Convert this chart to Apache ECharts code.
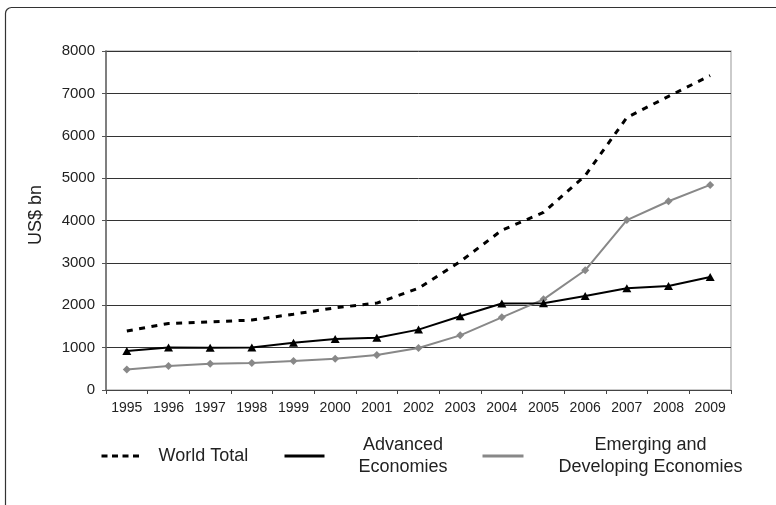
<!DOCTYPE html>
<html>
<head>
    <meta charset="UTF-8">
    <title>Exports</title>
    <script src="https://cdn.jsdelivr.net/npm/echarts@6/dist/echarts.min.js"></script>
    <style>
        html, body { margin: 0; padding: 0; background: #fff; }
        #chart { width: 776px; height: 505px; }
    </style>
</head>
<body>
    <div id="chart"></div>
    <script>
        var years = ['1995', '1996', '1997', '1998', '1999', '2000', '2001', '2002',
                     '2003', '2004', '2005', '2006', '2007', '2008', '2009'];
        var worldTotal = [1390, 1570, 1610, 1650, 1790, 1940, 2050, 2400,
                          3030, 3770, 4190, 5060, 6430, 6930, 7420];
        var advanced = [920, 1005, 1000, 1005, 1115, 1205, 1235, 1425,
                        1740, 2040, 2045, 2220, 2400, 2455, 2665];
        var emerging = [485, 565, 620, 635, 685, 740, 825, 990,
                        1290, 1715, 2140, 2825, 4010, 4455, 4840];
        var yTicks = [0, 1000, 2000, 3000, 4000, 5000, 6000, 7000, 8000];

        var chart = echarts.init(document.getElementById('chart'), null, { renderer: 'canvas' });
        var font = 'Arial, "Liberation Sans", sans-serif';

        var option = {
            animation: false,
            backgroundColor: '#fff',
            textStyle: { fontFamily: font },
            graphic: [{
                type: 'rect',
                shape: { x: 5.5, y: 7.5, width: 900, height: 700, r: 6 },
                style: { fill: 'none', stroke: '#333', lineWidth: 1.2 },
                silent: true
            }],
            grid: {
                left: 106, right: 45, top: 51, bottom: 115,
                show: true, borderColor: '#bbb', borderWidth: 1.5
            },
            legend: [{
                data: ['World Total'],
                left: 100, top: 447, padding: 0,
                itemWidth: 41, itemHeight: 14,
                itemStyle: { opacity: 0 },
                lineStyle: { width: 3, type: [6, 4.5] },
                textStyle: { fontSize: 18, color: '#222', padding: [0, 0, 0, 11] }
            }, {
                data: ['Advanced Economies'],
                left: 283, top: 436, padding: 0,
                itemWidth: 40, itemHeight: 14,
                itemStyle: { opacity: 0 },
                lineStyle: { width: 3 },
                formatter: function () { return '{a|Advanced}\n{a|Economies}'; },
                textStyle: {
                    rich: { a: { fontSize: 18, color: '#222', width: 147, align: 'center', lineHeight: 22 } }
                }
            }, {
                data: ['Emerging and Developing Economies'],
                left: 481, top: 436, padding: 0,
                itemWidth: 41, itemHeight: 14,
                itemStyle: { opacity: 0 },
                lineStyle: { width: 3 },
                formatter: function () { return '{a|Emerging and}\n{a|Developing Economies}'; },
                textStyle: {
                    rich: { a: { fontSize: 18, color: '#222', width: 244, align: 'center', lineHeight: 22 } }
                }
            }],
            xAxis: {
                type: 'category',
                data: years,
                boundaryGap: true,
                axisLine: { lineStyle: { color: '#444', width: 1.2 } },
                axisTick: { show: true, length: 4, lineStyle: { color: '#444' } },
                axisLabel: { interval: 0, fontSize: 14, color: '#222', margin: 11 }
            },
            yAxis: {
                type: 'value',
                min: yTicks[0], max: yTicks[yTicks.length - 1], interval: 1000,
                name: 'US$ bn',
                nameLocation: 'middle',
                nameGap: 61,
                nameTextStyle: { fontSize: 18, color: '#222', padding: [0, 0, 0, 11] },
                axisLine: { show: true, lineStyle: { color: '#666', width: 1.5 } },
                axisTick: { show: true, length: 4, lineStyle: { color: '#555' } },
                axisLabel: {
                    fontSize: 15, color: '#222', margin: 11,
                    formatter: function (v) { return String(v); }
                },
                splitLine: { lineStyle: { color: '#333', width: 1 } }
            },
            series: [{
                name: 'World Total',
                type: 'line',
                data: worldTotal,
                symbol: 'none',
                color: '#000',
                lineStyle: { color: '#000', width: 3, type: [6, 6.5] },
                z: 3
            }, {
                name: 'Advanced Economies',
                type: 'line',
                data: advanced,
                symbol: 'triangle',
                symbolSize: [9, 8],
                color: '#000',
                itemStyle: { color: '#000' },
                lineStyle: { color: '#000', width: 2 },
                z: 4
            }, {
                name: 'Emerging and Developing Economies',
                type: 'line',
                data: emerging,
                symbol: 'diamond',
                symbolSize: 8,
                color: '#888',
                itemStyle: { color: '#888' },
                lineStyle: { color: '#888', width: 2 },
                z: 2
            }]
        };

        chart.setOption(option);
    </script>
</body>
</html>
